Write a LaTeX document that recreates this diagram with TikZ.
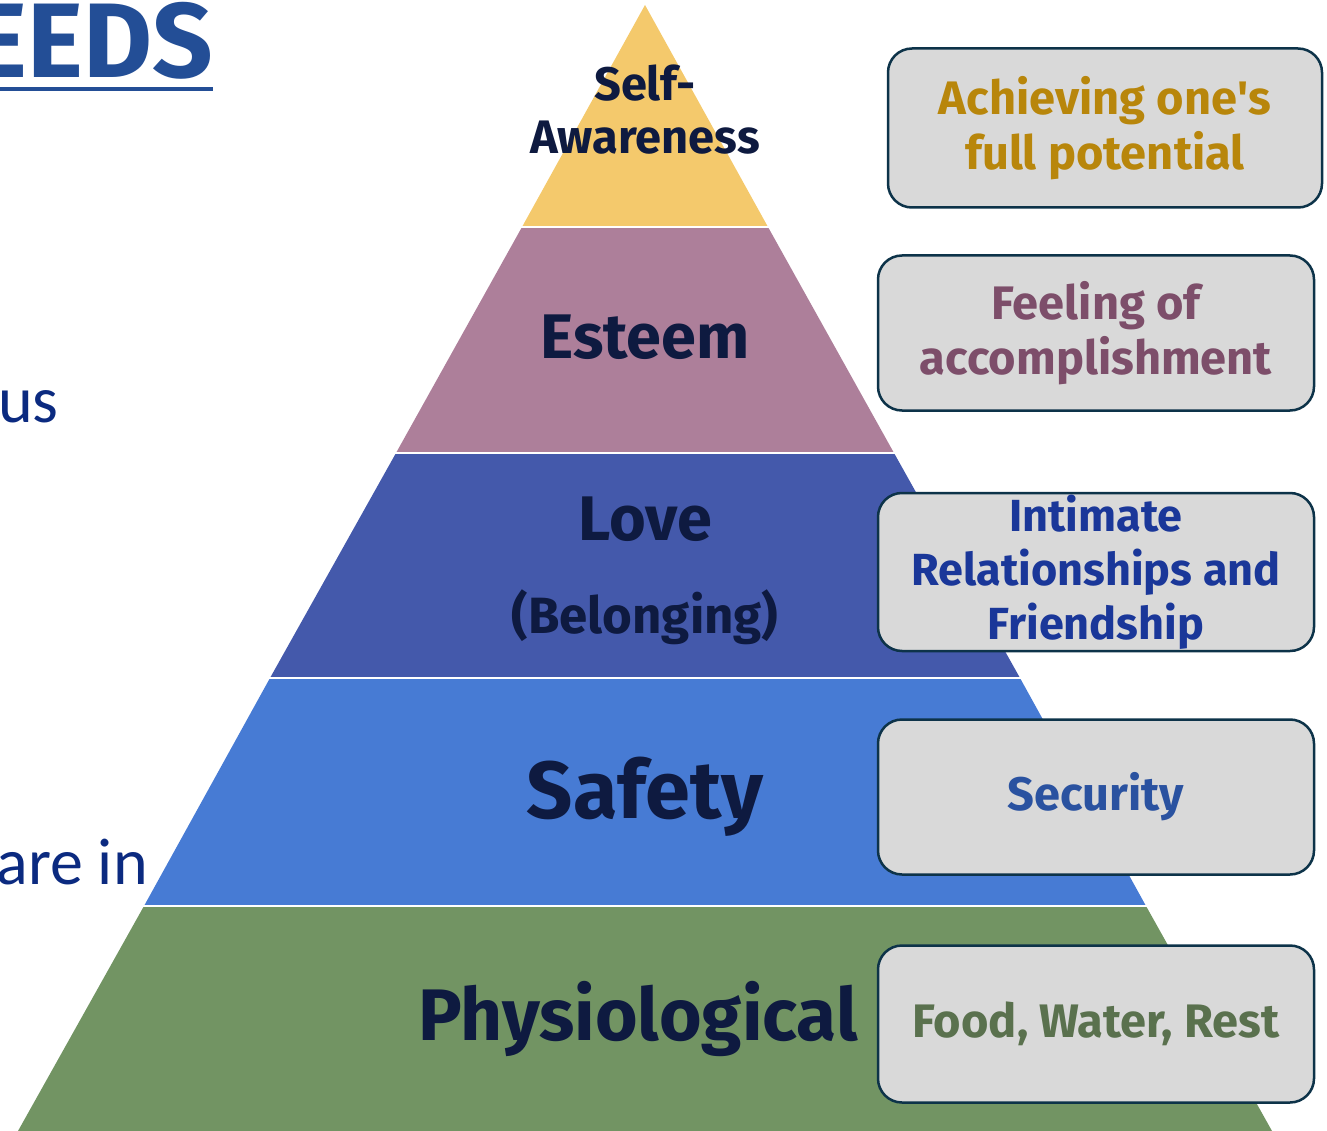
\documentclass[tikz,border=0pt]{standalone}
\usepackage{fontspec}
\setmainfont{Fira Sans}
\newfontfamily\bodyfont{Carlito}
\usetikzlibrary{positioning}
\definecolor{selfyellow}{HTML}{F4C96C}
\definecolor{esteempink}{HTML}{AD7F9A}
\definecolor{loveblue}{HTML}{4459AB}
\definecolor{safetyblue}{HTML}{477BD4}
\definecolor{physgreen}{HTML}{729463}
\definecolor{navy}{HTML}{0E1A40}
\definecolor{titleblue}{HTML}{234E96}
\definecolor{bodyblue}{HTML}{0B2A80}
\definecolor{boxgray}{HTML}{D9D9D9}
\definecolor{boxline}{HTML}{0D3349}
\definecolor{goalgold}{HTML}{B8860B}
\definecolor{goalplum}{HTML}{7D4E6A}
\definecolor{goalblue}{HTML}{1A3799}
\definecolor{goalsky}{HTML}{2A52A0}
\definecolor{goalgreen}{HTML}{5A714E}

\begin{document}
\begin{tikzpicture}[x=1pt,y=-1pt,
  level/.style={text=navy,inner sep=0pt,anchor=base},
  goalbox/.style={draw=boxline,line width=2.5pt,fill=boxgray,rounded corners=24pt,
    minimum width=434pt,minimum height=156pt,inner sep=0pt,align=center,
    font=\fontsize{47}{55}\selectfont\bfseries}]
  \useasboundingbox (0,0) rectangle (1327,1131);
  % pyramid bands
  \coordinate (apex) at (645,5);
  \fill[selfyellow] (apex) -- (768,227) -- (522,227) -- cycle;
  \fill[esteempink] (522,227) -- (768,227) -- (894,453) -- (396,453) -- cycle;
  \fill[loveblue] (396,453) -- (894,453) -- (1020,678) -- (270,678) -- cycle;
  \fill[safetyblue] (270,678) -- (1020,678) -- (1146,906) -- (144,906) -- cycle;
  \fill[physgreen] (144,906) -- (1146,906) -- (1272,1131) -- (18,1131) -- cycle;
  \foreach \y/\l/\r in {227/520/770,453/394/896,678/268/1022,906/142/1148}
    \draw[white,line width=2.5pt] (\l,\y) -- (\r,\y);
  % level names
  \node[level,align=center,font=\fontsize{47}{53}\selectfont\bfseries] (self) at (645,154) {Self-\\Awareness};
  \node[level,font=\fontsize{63}{63}\selectfont\bfseries] (esteem) at (645,358) {Esteem};
  \node[level,font=\fontsize{63}{63}\selectfont\bfseries] (love) at (645,540) {Love};
  \node[level,font=\fontsize{51}{51}\selectfont\bfseries] (belong) at (645,633) {(Belonging)};
  \node[level,font=\fontsize{81}{81}\selectfont\bfseries] (safety) at (645,818) {Safety};
  \node[level,font=\fontsize{73}{73}\selectfont\bfseries] (phys) at (638,1040) {Physiological};
  % what each level means
  \node[goalbox,text=goalgold,minimum height=159pt] (potential) at (1105,128) {Achieving one\textquotesingle s\\full potential};
  \node[goalbox,text=goalplum,minimum width=436pt,minimum height=155pt] (accomp) at (1096,333) {Feeling of\\accomplishment};
  \node[goalbox,text=goalblue,minimum width=436pt,minimum height=158pt,
    font=\fontsize{45}{54}\selectfont\bfseries] (intimate) at (1096,572) {Intimate\\Relationships and\\Friendship};
  \node[goalbox,text=goalsky,minimum width=436pt,minimum height=155pt] (security) at (1096,797) {Security};
  \node[goalbox,text=goalgreen,minimum width=436pt,minimum height=157pt] (food) at (1096,1024) {Food, Water, Rest};
  % cut-off slide text on the left
  \node[anchor=base east,inner sep=0pt,text=titleblue,font=\fontsize{106}{106}\selectfont\bfseries] (title) at (213,78) {EEDS};
  \draw[titleblue,line width=4pt] (0,89) -- (213,89);
  \node[anchor=base east,inner sep=0pt,text=bodyblue,font=\fontsize{66}{66}\bodyfont] (us) at (59,422) {us};
  \node[anchor=base east,inner sep=0pt,text=bodyblue,font=\fontsize{66}{66}\bodyfont] (arein) at (148,884) {are in};
\end{tikzpicture}
\end{document}
